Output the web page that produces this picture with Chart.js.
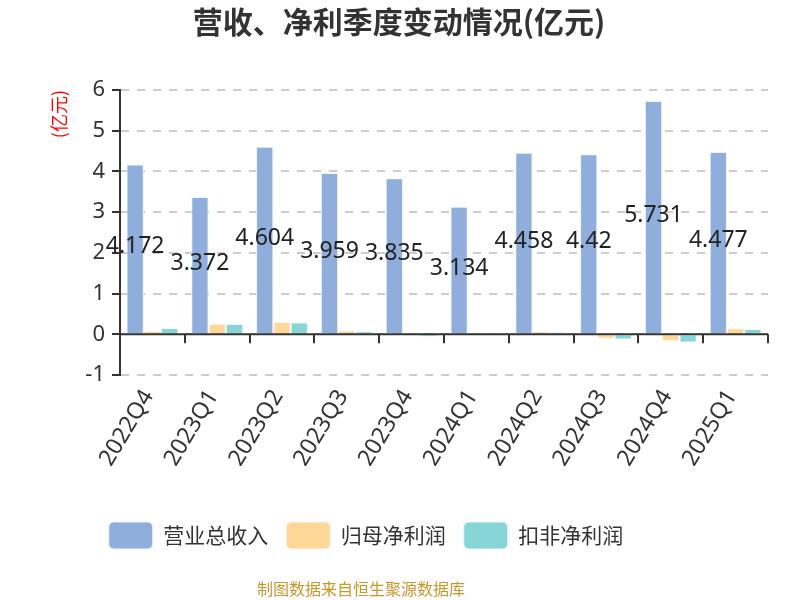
<!DOCTYPE html>
<html>
<head>
<meta charset="utf-8">
<script src="https://cdn.jsdelivr.net/npm/chart.js@4.4.0/dist/chart.umd.min.js"></script>
<style>
html,body{margin:0;padding:0;background:#fff;}
#wrap{width:800px;height:600px;position:relative;}
</style>
</head>
<body>
<div id="wrap"><canvas id="c" width="800" height="600"></canvas></div>
<script>
const categories = ['2022Q4','2023Q1','2023Q2','2023Q3','2023Q4','2024Q1','2024Q2','2024Q3','2024Q4','2025Q1'];
const revenue = [4.172,3.372,4.604,3.959,3.835,3.134,4.458,4.42,5.731,4.477];
const revenueLabels = ['4.172','3.372','4.604','3.959','3.835','3.134','4.458','4.42','5.731','4.477'];
const netProfit = [0.08,0.26,0.30,0.09,-0.03,0.04,0.07,-0.11,-0.17,0.15];
const deductedProfit = [0.155,0.25,0.29,0.07,-0.06,0.004,0.05,-0.13,-0.20,0.13];
const seriesNames = ['营业总收入','归母净利润','扣非净利润'];
const yTicks = [-1,0,1,2,3,4,5,6];

const FONT = '"Noto Sans CJK SC","Noto Sans",sans-serif';
const NUMFONT = '"Noto Sans","Noto Sans CJK SC",sans-serif';

const zeroLinePlugin = {
  id:'zeroLine',
  afterDatasetsDraw(chart){
    const {ctx, chartArea:a, scales:{x,y}} = chart;
    const y0 = y.getPixelForValue(0);
    ctx.save();
    ctx.strokeStyle = '#333';
    ctx.lineWidth = 2;
    ctx.beginPath();
    ctx.moveTo(a.left, y0); ctx.lineTo(a.right, y0);
    const n = categories.length;
    const w = (a.right - a.left)/n;
    for(let i=1;i<=n;i++){
      const xx = Math.round(a.left + i*w);
      ctx.moveTo(xx, y0); ctx.lineTo(xx, y0+9);
    }
    ctx.stroke();
    ctx.restore();
  }
};

const valueLabelPlugin = {
  id:'valueLabels',
  afterDatasetsDraw(chart){
    const {ctx} = chart;
    const meta = chart.getDatasetMeta(0);
    ctx.save();
    ctx.font = '23px ' + NUMFONT;
    ctx.fillStyle = '#222';
    ctx.textAlign = 'center';
    ctx.textBaseline = 'middle';
    meta.data.forEach((bar,i)=>{
      ctx.fillText(revenueLabels[i], bar.x, (bar.y + bar.base)/2 - 2);
    });
    ctx.restore();
  }
};

const footerPlugin = {
  id:'footer',
  afterLayout(chart){
    if (chart.legend){ chart.legend.left = 0; chart.legend.right = 732; }
    if (chart.titleBlock){ chart.titleBlock.left = 0; chart.titleBlock.right = 798; }
  },
  afterDraw(chart){
    const {ctx} = chart;
    ctx.save();
    ctx.font = '16px ' + FONT;
    ctx.fillStyle = '#C9962B';
    ctx.textAlign = 'center';
    ctx.textBaseline = 'middle';
    ctx.fillText('制图数据来自恒生聚源数据库', 361, 589);
    ctx.restore();
  }
};

new Chart(document.getElementById('c'), {
  type:'bar',
  data:{
    labels:categories,
    datasets:[
      {label:seriesNames[0], data:revenue, backgroundColor:'#8FAEDB', borderColor:'#EEF3FA', borderWidth:1},
      {label:seriesNames[1], data:netProfit, backgroundColor:'#FFD799', borderColor:'#FFF6E8', borderWidth:1},
      {label:seriesNames[2], data:deductedProfit, backgroundColor:'#88D5D8', borderColor:'#EAF8F8', borderWidth:1}
    ]
  },
  options:{
    responsive:false,
    animation:false,
    events:[],
    layout:{padding:{left:0,right:32,top:0,bottom:41}},
    datasets:{bar:{categoryPercentage:0.8, barPercentage:1.0}},
    plugins:{
      title:{display:true, text:'营收、净利季度变动情况(亿元)', color:'#333',
        font:{family:FONT, size:30, weight:'bold'}, padding:{top:4,bottom:50}},
      legend:{display:true, position:'bottom',
        labels:{boxWidth:44, boxHeight:27, padding:18, color:'#333', useBorderRadius:true, borderRadius:5,
          font:{family:FONT, size:21}}},
      tooltip:{enabled:false}
    },
    scales:{
      x:{
        grid:{display:false, drawTicks:false},
        border:{display:false},
        ticks:{color:'#333', font:{family:NUMFONT, size:23}, minRotation:59, maxRotation:59, padding:10, labelOffset:-4, autoSkip:false},
        afterFit(s){ s.height = 129; }
      },
      y:{
        min:-1, max:6,
        ticks:{stepSize:1, color:'#333', font:{family:NUMFONT, size:22}, padding:7},
        grid:{color:'#CCCCCC', lineWidth:2, tickColor:'#333', tickLength:8, tickBorderDash:[], tickWidth:2},
        border:{display:true, color:'#333', width:2, dash:[8,8]},
        title:{display:true, text:'(亿元)', color:'#FF0000', align:'end', font:{family:FONT, size:18}, padding:{top:48,bottom:0}},
        afterFit(s){ s.width = 120; }
      }
    }
  },
  plugins:[zeroLinePlugin, valueLabelPlugin, footerPlugin]
});
</script>
</body>
</html>
